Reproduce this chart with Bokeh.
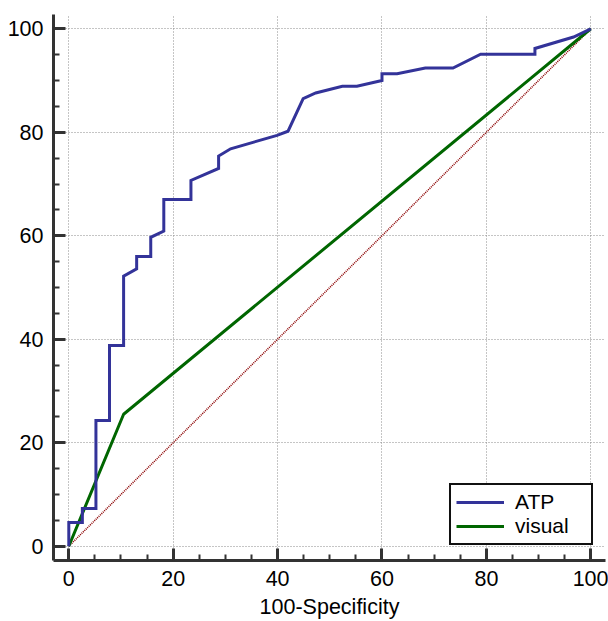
from bokeh.plotting import figure
from bokeh.models import Range1d, SingleIntervalTicker, Legend, LegendItem
from bokeh.embed import file_html
from bokeh.resources import INLINE

# ATP ROC curve (100-Specificity, Sensitivity)
atp_x = [0, 0, 2.6, 2.6, 5.2, 5.2, 7.8, 7.8, 10.5, 10.5, 13.0, 13.0, 15.7, 15.7,
         18.2, 18.2, 23.4, 23.4, 28.7, 28.7, 31.0, 39.9, 42.0, 44.9, 47.3, 52.4,
         55.2, 60.0, 60.0, 62.9, 68.3, 73.6, 78.9, 89.3, 89.3, 96.7, 100]
atp_y = [0, 4.6, 4.6, 7.3, 7.3, 24.3, 24.3, 38.8, 38.8, 52.2, 53.6, 56.0, 56.0, 59.7,
         60.9, 67.0, 67.0, 70.7, 73.0, 75.4, 76.8, 79.4, 80.2, 86.5, 87.6, 88.9,
         88.9, 90.0, 91.3, 91.3, 92.4, 92.4, 95.1, 95.1, 96.2, 98.4, 100]

# visual ROC curve
visual_x = [0, 10.5, 100]
visual_y = [0, 25.5, 100]

# reference diagonal
diag_x = [0, 100]
diag_y = [0, 100]

x_label = "100-Specificity"
FONT = "Liberation Sans"
FS = "21.5px"

p = figure(width=608, height=621, output_backend="svg", toolbar_location=None,
           x_range=Range1d(-2.93, 102.82), y_range=Range1d(-2.76, 102.76),
           min_border_left=53, min_border_right=3, min_border_top=14, min_border_bottom=59)
p.outline_line_color = None
p.background_fill_color = "white"

for ax in (p.xaxis, p.yaxis):
    ax.ticker = SingleIntervalTicker(interval=20, num_minor_ticks=4)
p.axis.axis_line_width = 3
p.axis.axis_line_color = "#333333"
p.axis.major_tick_line_width = 3
p.axis.major_tick_line_color = "#333333"
p.axis.minor_tick_line_width = 2
p.axis.minor_tick_line_color = "#333333"
p.axis.major_tick_in = 12
p.axis.major_tick_out = 0
p.axis.minor_tick_in = 6
p.axis.minor_tick_out = 0
p.axis.major_label_text_font = FONT
p.axis.major_label_text_font_size = FS
p.axis.major_label_text_color = "black"
p.axis.major_label_standoff = 10
p.xaxis.axis_label = x_label
p.xaxis.axis_label_text_font = FONT
p.xaxis.axis_label_text_font_size = FS
p.xaxis.axis_label_text_font_style = "normal"
p.xaxis.axis_label_text_color = "black"
p.xaxis.axis_label_standoff = 6

p.grid.grid_line_color = "#8a8a8a"
p.grid.grid_line_dash = "1 2"
p.grid.grid_line_width = 1

p.line(diag_x, diag_y, line_color="#8b0000", line_width=1.6, line_dash="1 1")
r_vis = p.line(visual_x, visual_y, line_color="#006600", line_width=3)
r_atp = p.line(atp_x, atp_y, line_color="#333399", line_width=3, line_join="miter")

legend = Legend(items=[LegendItem(label="ATP", renderers=[r_atp]),
                       LegendItem(label="visual", renderers=[r_vis])],
                location=(396, 15))
legend.label_text_font = FONT
legend.label_text_font_size = "21px"
legend.label_text_color = "black"
legend.border_line_color = "#111111"
legend.border_line_alpha = 1
legend.border_line_width = 2.5
legend.background_fill_color = "white"
legend.background_fill_alpha = 1
legend.padding = 5
legend.spacing = 0
legend.glyph_width = 48
legend.glyph_height = 22
legend.label_height = 22
legend.label_width = 71
legend.label_standoff = 11
legend.margin = 0
p.add_layout(legend)

open("out.html", "w").write(file_html(p, INLINE))
